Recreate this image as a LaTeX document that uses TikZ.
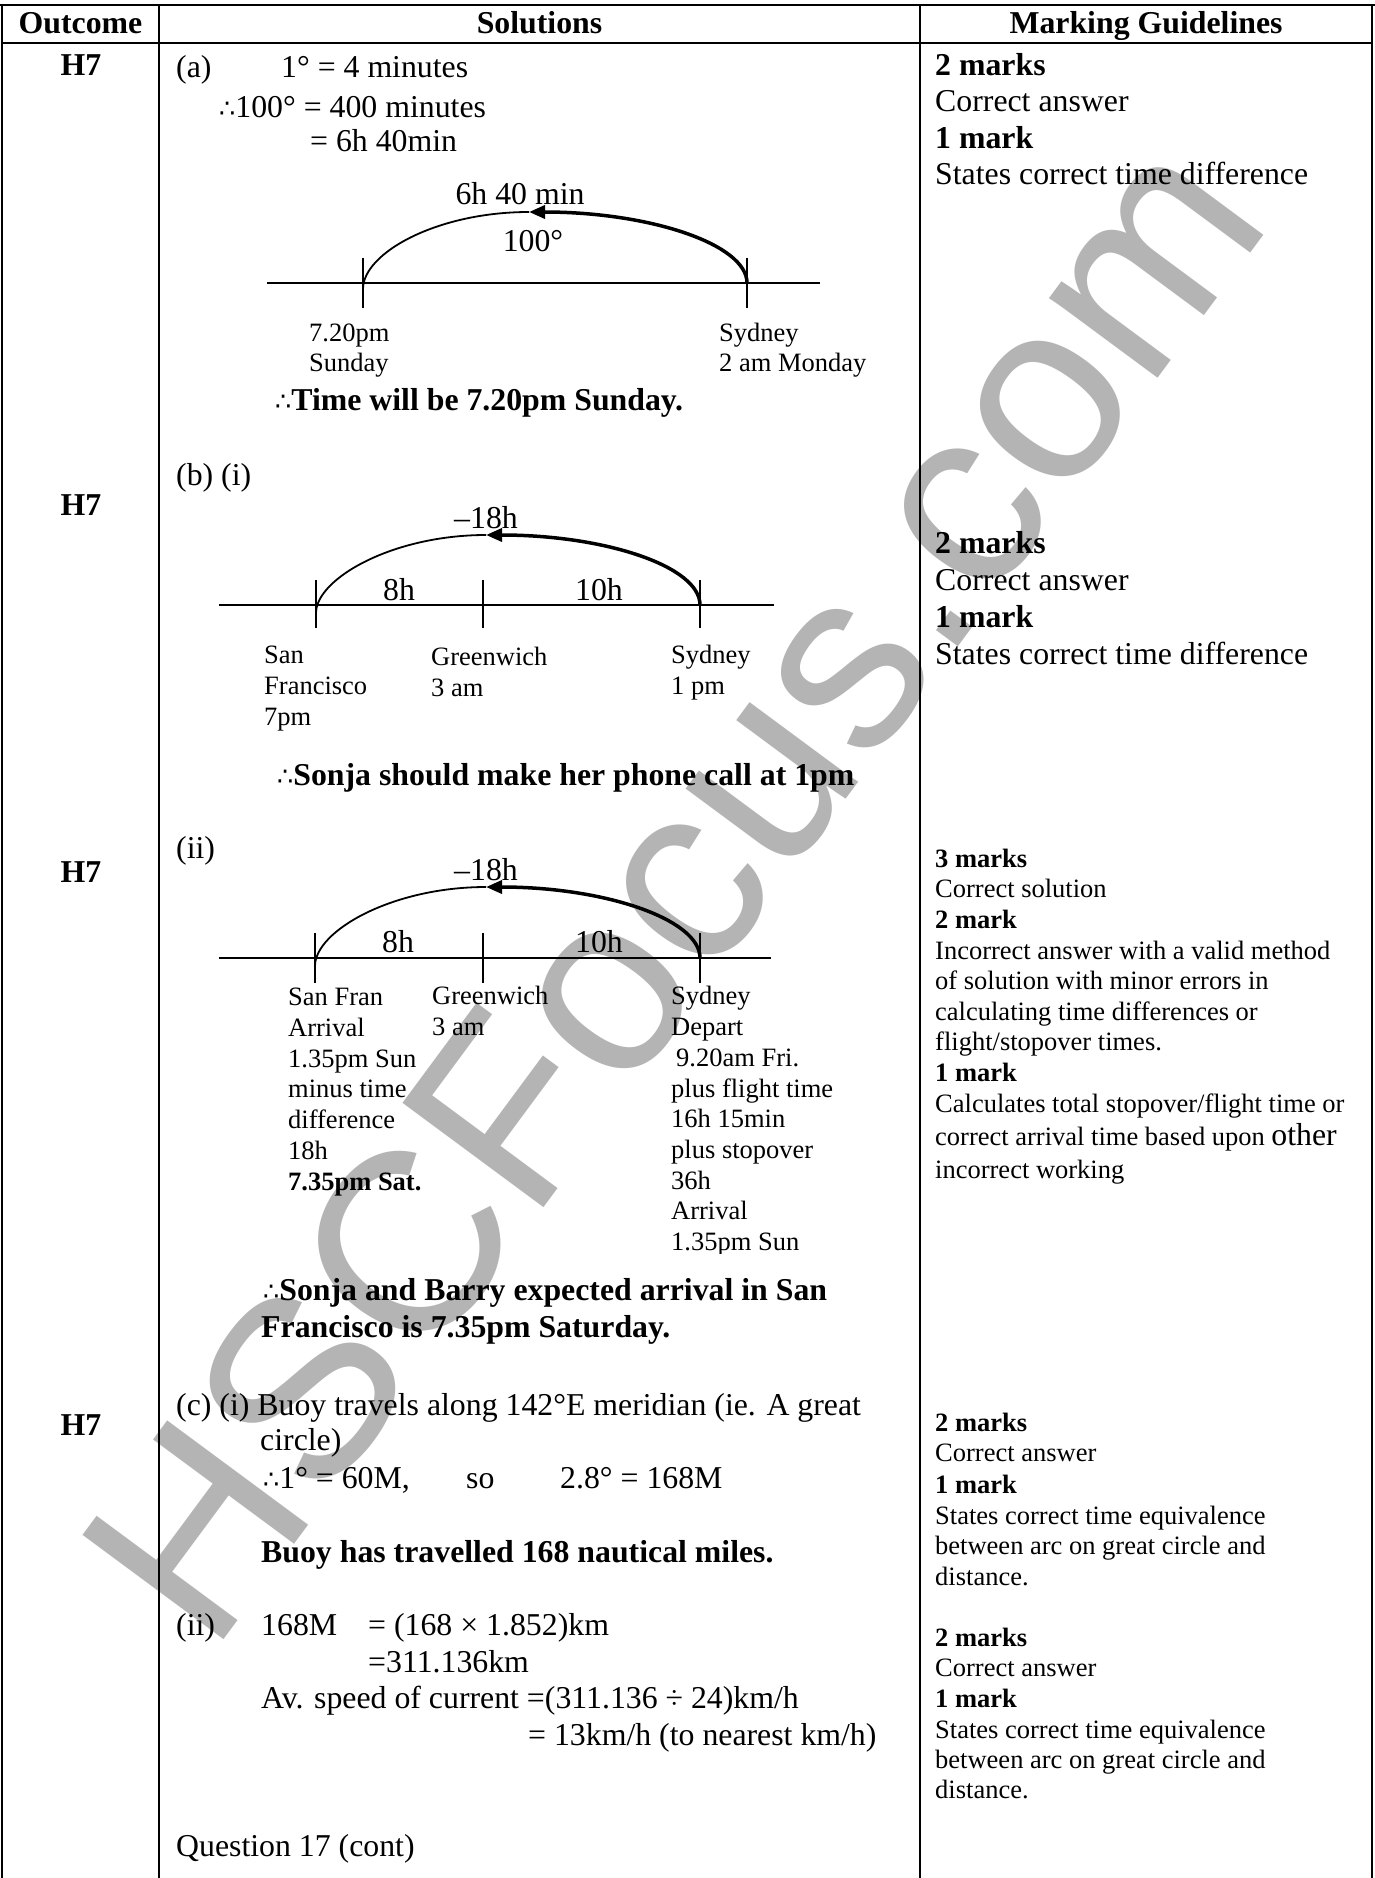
\documentclass[tikz,border=0pt]{standalone}
\usepackage{fontspec}
\setmainfont{Liberation Serif}
\newfontfamily\dvs{DejaVu Sans}[Scale=0.8]
\newfontfamily\wmfont{Liberation Sans}
\usetikzlibrary{arrows.meta}
\newcommand\fA{\fontsize{31.8}{36}\selectfont}
\newcommand\fB{\fontsize{26.5}{31}\selectfont}
\newcommand\thr{{\dvs\mdseries ∴}}
\definecolor{wm}{RGB}{180,180,180}
\begin{document}
\begin{tikzpicture}[x=1pt,y=-1pt,
 tx/.style={anchor=base west,inner sep=0pt,font=\fA},
 bx/.style={tx,font=\fA\bfseries},
 sx/.style={anchor=base west,inner sep=0pt,font=\fB},
 sbx/.style={sx,font=\fB\bfseries},
 ctx/.style={anchor=base,inner sep=0pt,font=\fA},
 cbx/.style={anchor=base,inner sep=0pt,font=\fA\bfseries},
 tabline/.style={line width=2pt},
 axisline/.style={line width=2pt},
 thinarc/.style={line width=1.8pt},
 thickarc/.style={line width=3.5pt,-{Triangle[length=16pt,width=13pt]}},
]
\fill[white] (0,0) rectangle (1375,1878);
\useasboundingbox (0,0) rectangle (1375,1878);

% watermark
\node[text=wm,font=\wmfont\fontsize{255}{255}\selectfont,rotate=53.5,inner sep=0pt] (wmark) at (672,887) {HSCFocus.com};

% table
\draw[tabline] (0,5) -- (1375,5);
\draw[tabline] (2,5) -- (2,1878);
\draw[tabline] (1372,5) -- (1372,1878);
\draw[tabline] (159,5) -- (159,1878);
\draw[tabline] (920,5) -- (920,1878);
\draw[tabline] (2,43) -- (1372,43);

% header
\node[cbx] (h1) at (80.5,34) {Outcome};
\node[cbx] (h2) at (539.5,34) {Solutions};
\node[cbx] (h3) at (1146,34) {Marking Guidelines};

% outcomes
\node[cbx] (o1) at (81,76) {H7};
\node[cbx] (o2) at (81,515) {H7};
\node[cbx] (o3) at (81,882) {H7};
\node[cbx] (o4) at (81,1435) {H7};

% (a)
\node[tx] (a1) at (176,78) {(a)};
\node[tx] (a2) at (281,78) {1° = 4 minutes};
\node[tx] (a3) at (219,118) {\thr100° = 400 minutes};
\node[tx] (a4) at (310,152) {= 6h 40min};
\node[ctx] (a5) at (520,205) {6h 40 min};
\node[ctx] (a6) at (533,252) {100°};
\coordinate (aA) at (267,283);
\coordinate (aB) at (820,283);
\coordinate (aL) at (363,283);
\coordinate (aR) at (747,283);
\coordinate (aT) at (529,212);
\draw[axisline] (aA) -- (aB);
\draw[axisline] ([yshift=-25pt]aL) -- ([yshift=25pt]aL);
\draw[axisline] ([yshift=-25pt]aR) -- ([yshift=25pt]aR);
\draw[thinarc] ([yshift=-6pt]aL) .. controls +(0,-36) and +(-92,0) .. (aT);
\draw[thickarc] (aR) .. controls +(0,-39) and +(120,0) .. (aT);
\node[sx] (a7) at (309,341.5) {7.20pm};
\node[sx] (a8) at (309,371.5) {Sunday};
\node[sx] (a9) at (719,341.5) {Sydney};
\node[sx] (a10) at (719,371.5) {2 am Monday};
\node[bx] (a11) at (275,410) {\thr Time will be 7.20pm Sunday.};

% (b)(i)
\node[tx] (b1) at (176,485) {(b) (i)};
\node[ctx] (b2) at (486,528) {–18h};
\coordinate (bA) at (219,605);
\coordinate (bB) at (774,605);
\coordinate (bL) at (316,605);
\coordinate (bM) at (483,605);
\coordinate (bR) at (700,605);
\coordinate (bT) at (486,535);
\draw[axisline] (bA) -- (bB);
\draw[axisline] ([yshift=-23pt]bL) -- ([yshift=25pt]bL);
\draw[axisline] ([yshift=-23pt]bM) -- ([yshift=25pt]bM);
\draw[axisline] ([yshift=-23pt]bR) -- ([yshift=25pt]bR);
\draw[thinarc] ([yshift=-8pt]bL) .. controls +(0,-34) and +(-94,0) .. (bT);
\draw[thickarc] (bR) .. controls +(0,-39) and +(118,0) .. (bT);
\node[ctx] (b3) at (399,600) {8h};
\node[ctx] (b4) at (599,600) {10h};
\node[sx] (b5) at (264,663.5) {San};
\node[sx] (b6) at (264,694) {Francisco};
\node[sx] (b7) at (264,725.5) {7pm};
\node[sx] (b8) at (431,665.5) {Greenwich};
\node[sx] (b9) at (431,696.5) {3 am};
\node[sx] (b10) at (671,663.5) {Sydney};
\node[sx] (b11) at (671,694) {1 pm};
\node[bx] (b12) at (277,785) {\thr Sonja should make her phone call at 1pm};

% (b)(ii)
\node[tx] (c1) at (176,858) {(ii)};
\node[ctx] (c2) at (486,880) {–18h};
\coordinate (cA) at (219,958);
\coordinate (cB) at (771,958);
\coordinate (cL) at (315,958);
\coordinate (cM) at (483,958);
\coordinate (cR) at (700,958);
\coordinate (cT) at (486,887);
\draw[axisline] (cA) -- (cB);
\draw[axisline] ([yshift=-25pt]cL) -- ([yshift=25pt]cL);
\draw[axisline] ([yshift=-25pt]cM) -- ([yshift=25pt]cM);
\draw[axisline] ([yshift=-25pt]cR) -- ([yshift=25pt]cR);
\draw[thinarc] ([yshift=-8pt]cL) .. controls +(0,-35) and +(-94,0) .. (cT);
\draw[thickarc] (cR) .. controls +(0,-39) and +(118,0) .. (cT);
\node[ctx] (c3) at (398,952) {8h};
\node[ctx] (c4) at (599,952) {10h};
\node[sx] (c5) at (288,1005.5) {San Fran};
\node[sx] (c6) at (288,1036.3) {Arrival};
\node[sx] (c7) at (288,1067.1) {1.35pm Sun};
\node[sx] (c8) at (288,1097.9) {minus time};
\node[sx] (c9) at (288,1128.7) {difference};
\node[sx] (c10) at (288,1159.5) {18h};
\node[sbx] (c11) at (288,1190.3) {7.35pm Sat.};
\node[sx] (c12) at (432,1004) {Greenwich};
\node[sx] (c13) at (432,1035.5) {3 am};
\node[sx] (c14) at (671,1004) {Sydney};
\node[sx] (c15) at (671,1035) {Depart};
\node[sx] (c16) at (676,1066) {9.20am Fri.};
\node[sx] (c17) at (671,1097) {plus flight time};
\node[sx] (c18) at (671,1127.5) {16h 15min};
\node[sx] (c19) at (671,1158) {plus stopover};
\node[sx] (c20) at (671,1189) {36h};
\node[sx] (c21) at (671,1219.5) {Arrival};
\begin{scope}
\clip (600,1215) rectangle (900,1253);
\node[sx] (c22) at (671,1250.5) {1.35pm Sun};
\end{scope}
\node[bx] (c23) at (263,1300) {\thr Sonja and Barry expected arrival in San};
\node[bx] (c24) at (261,1337) {Francisco is 7.35pm Saturday.};

% (c)
\node[tx] (d1) at (176,1415) {(c) (i) Buoy travels along 142°E meridian (ie. A great};
\node[tx] (d2) at (260,1450) {circle)};
\node[tx] (d3) at (263,1488) {\thr1° = 60M,};
\node[tx] (d4) at (466,1488) {so};
\node[tx] (d5) at (560,1488) {2.8° = 168M};
\node[bx] (d6) at (261,1562) {Buoy has travelled 168 nautical miles.};
\node[tx] (d7) at (176,1635) {(ii)};
\node[tx] (d8) at (261,1635) {168M};
\node[tx] (d9) at (368,1635) {= (168 × 1.852)km};
\node[tx] (d10) at (368,1672) {=311.136km};
\node[tx] (d11) at (261,1708) {Av. speed of current =(311.136 ÷ 24)km/h};
\node[tx] (d12) at (528,1745) {= 13km/h (to nearest km/h)};
\node[tx] (d13) at (176,1856) {Question 17 (cont)};

% marking guidelines
\node[bx] (m1) at (935,76) {2 marks};
\node[tx] (m2) at (935,112) {Correct answer};
\node[bx] (m3) at (935,149) {1 mark};
\node[tx] (m4) at (935,185) {States correct time difference};

\node[bx] (m5) at (935,553) {2 marks};
\node[tx] (m6) at (935,590) {Correct answer};
\node[bx] (m7) at (935,627) {1 mark};
\node[tx] (m8) at (935,664) {States correct time difference};

\node[sbx] (m9) at (935,867.5) {3 marks};
\node[sx] (m10) at (935,897.5) {Correct solution};
\node[sbx] (m11) at (935,928.5) {2 mark};
\node[sx] (m12) at (935,959.5) {Incorrect answer with a valid method};
\node[sx] (m13) at (935,989.5) {of solution with minor errors in};
\node[sx] (m14) at (935,1020.5) {calculating time differences or};
\node[sx] (m15) at (935,1050.5) {flight/stopover times.};
\node[sbx] (m16) at (935,1081.5) {1 mark};
\node[sx] (m17) at (935,1112.5) {Calculates total stopover/flight time or};
\node[sx] (m18) at (935,1145.5) {correct arrival time based upon {\fA other}};
\node[sx] (m19) at (935,1178.5) {incorrect working};

\node[sbx] (m20) at (935,1431.5) {2 marks};
\node[sx] (m21) at (935,1461.5) {Correct answer};
\node[sbx] (m22) at (935,1493.5) {1 mark};
\node[sx] (m23) at (935,1524.5) {States correct time equivalence};
\node[sx] (m24) at (935,1554.5) {between arc on great circle and};
\node[sx] (m25) at (935,1585.5) {distance.};

\node[sbx] (m26) at (935,1646.5) {2 marks};
\node[sx] (m27) at (935,1676.5) {Correct answer};
\node[sbx] (m28) at (935,1707.5) {1 mark};
\node[sx] (m29) at (935,1738.5) {States correct time equivalence};
\node[sx] (m30) at (935,1768.5) {between arc on great circle and};
\node[sx] (m31) at (935,1798.5) {distance.};
\end{tikzpicture}
\end{document}
